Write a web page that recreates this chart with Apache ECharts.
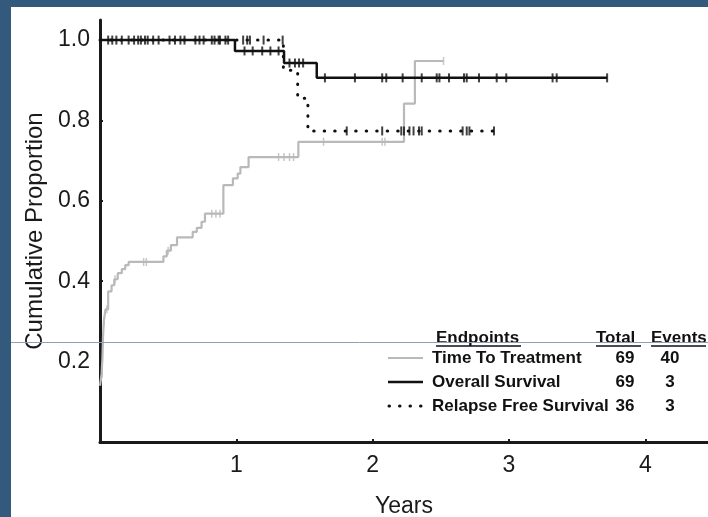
<!DOCTYPE html>
<html>
<head>
<meta charset="utf-8">
<script src="https://cdn.jsdelivr.net/npm/echarts@6/dist/echarts.min.js"></script>
<style>html,body{margin:0;padding:0;background:#fff;}#c{width:708px;height:517px;}</style>
</head>
<body>
<div id="c"></div>
<script>
// ---- data ----
const xTicks = [1, 2, 3, 4];
const yTicks = [0.2, 0.4, 0.6, 0.8, 1.0];

// Time To Treatment (cumulative proportion, step function)
const tttT = [0, 0.012, 0.018, 0.022, 0.028, 0.04, 0.06, 0.085, 0.105, 0.13, 0.16, 0.185, 0.21, 0.465, 0.49, 0.52, 0.565, 0.68, 0.71, 0.745, 0.77, 0.905, 0.975, 1.01, 1.03, 1.09, 1.455, 2.23, 2.31, 2.52];
const tttP = [0.14, 0.17, 0.21, 0.26, 0.30, 0.33, 0.375, 0.39, 0.405, 0.42, 0.43, 0.44, 0.448, 0.462, 0.476, 0.49, 0.509, 0.523, 0.533, 0.548, 0.568, 0.639, 0.656, 0.668, 0.684, 0.709, 0.747, 0.842, 0.948, 0.948];
const tttCensT = [0.016, 0.03, 0.05, 0.11, 0.32, 0.34, 0.50, 0.82, 0.85, 0.88, 1.31, 1.35, 1.39, 1.42, 1.64, 2.07, 2.09, 2.52];
const tttCensP = [0.17, 0.30, 0.33, 0.405, 0.448, 0.448, 0.476, 0.568, 0.568, 0.568, 0.709, 0.709, 0.709, 0.709, 0.747, 0.747, 0.747, 0.948];

// Overall Survival
const osT = [0, 0.99, 1.35, 1.59, 3.72];
const osP = [1.0, 0.973, 0.943, 0.906, 0.906];
const osCensT = [0.06, 0.09, 0.12, 0.16, 0.21, 0.25, 0.28, 0.30, 0.33, 0.35, 0.39, 0.43, 0.51, 0.55, 0.59, 0.62, 0.70, 0.73, 0.76, 0.82, 0.84, 0.87, 0.88, 0.92, 0.94,
  1.06, 1.12, 1.19, 1.25, 1.31,
  1.39, 1.43, 1.46, 1.49,
  1.65, 1.87, 2.07, 2.10, 2.22, 2.36, 2.47, 2.49, 2.56, 2.67, 2.69, 2.78, 2.91, 2.98, 3.32, 3.35, 3.72];
const osCensP = [1, 1, 1, 1, 1, 1, 1, 1, 1, 1, 1, 1, 1, 1, 1, 1, 1, 1, 1, 1, 1, 1, 1, 1, 1,
  0.973, 0.973, 0.973, 0.973, 0.973,
  0.943, 0.943, 0.943, 0.943,
  0.906, 0.906, 0.906, 0.906, 0.906, 0.906, 0.906, 0.906, 0.906, 0.906, 0.906, 0.906, 0.906, 0.906, 0.906, 0.906, 0.906];

// Relapse Free Survival
const rfsT = [0, 1.345, 1.45, 1.525, 2.9];
const rfsP = [1.0, 0.925, 0.855, 0.774, 0.774];
const rfsCensT = [1.05, 1.08, 1.10, 1.20, 1.34, 1.81, 2.07, 2.21, 2.23, 2.27, 2.30, 2.34, 2.36, 2.66, 2.69, 2.71, 2.89];
const rfsCensP = [1, 1, 1, 1, 1, 0.774, 0.774, 0.774, 0.774, 0.774, 0.774, 0.774, 0.774, 0.774, 0.774, 0.774, 0.774];

// legend table
const legendNames = ['Time To Treatment', 'Overall Survival', 'Relapse Free Survival'];
const legendTotal = ['69', '69', '36'];
const legendEvents = ['40', '3', '3'];

// ---- chart ----
const zip = (a, b) => a.map((v, i) => [v, b[i]]);
const FONT = '"Liberation Sans", Arial, sans-serif';
const GRAY = '#b9b9b9';
const BLACK = '#111';

const chart = echarts.init(document.getElementById('c'), null, {renderer: 'canvas'});

const rowY = [358, 382, 406];
const graphics = [
  {type: 'rect', shape: {x: 0, y: 0, width: 708, height: 7}, style: {fill: '#335a7c'}, z: 200},
  {type: 'rect', shape: {x: 0, y: 0, width: 11, height: 517}, style: {fill: '#335a7c'}, z: 200},
  {type: 'line', shape: {x1: 11, y1: 342.5, x2: 708, y2: 342.5}, style: {stroke: '#86a3bd', lineWidth: 1}, z: 200},
  {type: 'text', style: {text: 'Endpoints', x: 436, y: 338, font: 'bold 17px ' + FONT, fill: BLACK, textVerticalAlign: 'middle'}, z: 50},
  {type: 'text', style: {text: 'Total', x: 596, y: 338, font: 'bold 17px ' + FONT, fill: BLACK, textVerticalAlign: 'middle'}, z: 50},
  {type: 'text', style: {text: 'Events', x: 651, y: 338, font: 'bold 17px ' + FONT, fill: BLACK, textVerticalAlign: 'middle'}, z: 50},
  {type: 'line', shape: {x1: 436, y1: 346, x2: 521, y2: 346}, style: {stroke: BLACK, lineWidth: 1.5}, z: 50},
  {type: 'line', shape: {x1: 596, y1: 346, x2: 641, y2: 346}, style: {stroke: BLACK, lineWidth: 1.5}, z: 50},
  {type: 'line', shape: {x1: 651, y1: 346, x2: 706, y2: 346}, style: {stroke: BLACK, lineWidth: 1.5}, z: 50},
  {type: 'line', shape: {x1: 388, y1: rowY[0], x2: 423, y2: rowY[0]}, style: {stroke: GRAY, lineWidth: 2}, z: 50},
  {type: 'line', shape: {x1: 388, y1: rowY[1], x2: 423, y2: rowY[1]}, style: {stroke: BLACK, lineWidth: 2.5}, z: 50},
  {type: 'line', shape: {x1: 389, y1: rowY[2], x2: 423, y2: rowY[2]}, style: {stroke: BLACK, lineWidth: 3, lineDash: [0.5, 10], lineCap: 'round'}, z: 50}
];
legendNames.forEach((n, i) => {
  graphics.push({type: 'text', style: {text: n, x: 432, y: rowY[i], font: 'bold 17px ' + FONT, fill: BLACK, textVerticalAlign: 'middle'}, z: 50});
  graphics.push({type: 'text', style: {text: legendTotal[i], x: 625, y: rowY[i], font: 'bold 17px ' + FONT, fill: BLACK, textAlign: 'center', textVerticalAlign: 'middle'}, z: 50});
  graphics.push({type: 'text', style: {text: legendEvents[i], x: 670, y: rowY[i], font: 'bold 17px ' + FONT, fill: BLACK, textAlign: 'center', textVerticalAlign: 'middle'}, z: 50});
});

const option = {
  backgroundColor: '#fff',
  animation: false,
  grid: {left: 100, top: 20, right: 0, bottom: 75, containLabel: false, outerBoundsMode: 'none'},
  xAxis: {
    type: 'value', min: 0, max: 4.46,
    name: 'Years', nameLocation: 'middle', nameGap: 53,
    nameTextStyle: {fontSize: 23, color: '#1a1a1a', fontFamily: FONT},
    axisLine: {show: true, lineStyle: {color: '#1a1a1a', width: 3}},
    axisTick: {show: true, inside: true, length: 3, customValues: xTicks, lineStyle: {color: '#1a1a1a', width: 2}},
    axisLabel: {customValues: xTicks, fontSize: 23, color: '#1a1a1a', fontFamily: FONT, margin: 12, formatter: v => String(v)},
    splitLine: {show: false}
  },
  yAxis: {
    type: 'value', min: 0, max: 1.05,
    name: 'Cumulative Proportion', nameLocation: 'middle', nameGap: 53,
    nameTextStyle: {fontSize: 24, color: '#1a1a1a', fontFamily: FONT},
    axisLine: {show: true, lineStyle: {color: '#1a1a1a', width: 3}},
    axisTick: {show: true, inside: true, length: 3, customValues: yTicks, lineStyle: {color: '#1a1a1a', width: 2}},
    axisLabel: {customValues: yTicks, fontSize: 23, color: '#1a1a1a', fontFamily: FONT, margin: 10, formatter: v => v.toFixed(1)},
    splitLine: {show: false}
  },
  series: [
    {name: 'Time To Treatment', type: 'line', step: 'end', data: zip(tttT, tttP), showSymbol: false, symbol: 'none',
      lineStyle: {color: GRAY, width: 2.2}, z: 2},
    {name: 'TTT censored', type: 'scatter', data: zip(tttCensT, tttCensP), symbol: 'rect', symbolSize: [1.5, 8],
      itemStyle: {color: GRAY}, z: 2},
    {name: 'Overall Survival', type: 'line', step: 'end', data: zip(osT, osP), showSymbol: false, symbol: 'none',
      lineStyle: {color: BLACK, width: 2.5}, z: 3},
    {name: 'OS censored', type: 'scatter', data: zip(osCensT, osCensP), symbol: 'rect', symbolSize: [2, 9],
      itemStyle: {color: BLACK}, z: 3},
    {name: 'Relapse Free Survival', type: 'line', step: 'end', data: zip(rfsT, rfsP), showSymbol: false, symbol: 'none',
      lineStyle: {color: BLACK, width: 3, type: [0.5, 10], cap: 'round'}, z: 4},
    {name: 'RFS censored', type: 'scatter', data: zip(rfsCensT, rfsCensP), symbol: 'rect', symbolSize: [2, 9],
      itemStyle: {color: BLACK}, z: 4}
  ],
  graphic: graphics
};
chart.setOption(option);
</script>
</body>
</html>
